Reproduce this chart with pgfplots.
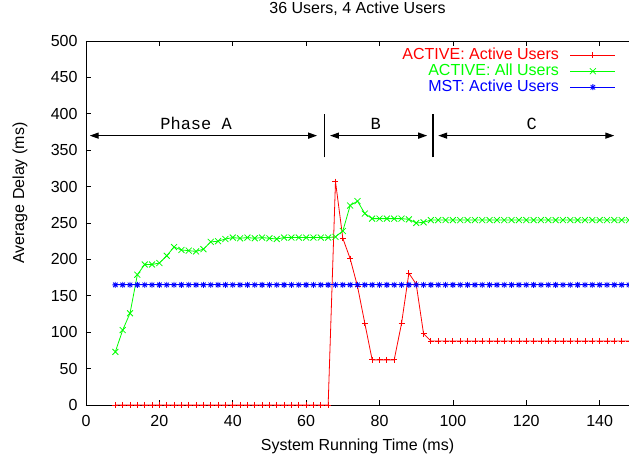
\documentclass[border=0pt]{standalone}
\usepackage{pgfplots}
\usepackage{pgfplotstable}
\pgfplotsset{compat=1.18}
\usepackage{fontspec}
\setmainfont{Liberation Sans}
\newfontfamily\cour{Liberation Mono}
\usetikzlibrary{arrows.meta}

\definecolor{gpred}{RGB}{255,0,0}
\definecolor{gpgreen}{RGB}{0,255,0}
\definecolor{gpblue}{RGB}{0,0,255}

\pgfdeclareplotmark{gpstar}{%
 \pgfpathmoveto{\pgfqpoint{-\pgfplotmarksize}{0pt}}\pgfpathlineto{\pgfqpoint{\pgfplotmarksize}{0pt}}%
 \pgfpathmoveto{\pgfqpoint{0pt}{-\pgfplotmarksize}}\pgfpathlineto{\pgfqpoint{0pt}{\pgfplotmarksize}}%
 \pgfpathmoveto{\pgfqpoint{-.75\pgfplotmarksize}{-.75\pgfplotmarksize}}\pgfpathlineto{\pgfqpoint{.75\pgfplotmarksize}{.75\pgfplotmarksize}}%
 \pgfpathmoveto{\pgfqpoint{-.75\pgfplotmarksize}{.75\pgfplotmarksize}}\pgfpathlineto{\pgfqpoint{.75\pgfplotmarksize}{-.75\pgfplotmarksize}}%
 \pgfusepathqstroke}

\pgfplotstableread{
x y
8 0
10 0
12 0
14 0
16 0
18 0
20 0
22 0
24 0
26 0
28 0
30 0
32 0
34 0
36 0
38 0
40 0
42 0
44 0
46 0
48 0
50 0
52 0
54 0
56 0
58 0
60 0
62 0
64 0
66 0
68 307
70 229
72 201
74 163
76 112
78 62
80 62
82 62
84 62
86 112
88 181
90 166
92 98
94 88
96 88
98 88
100 88
102 88
104 88
106 88
108 88
110 88
112 88
114 88
116 88
118 88
120 88
122 88
124 88
126 88
128 88
130 88
132 88
134 88
136 88
138 88
140 88
142 88
144 88
146 88
148 88
}\activeactive

\pgfplotstableread{
x y
8 73
10 103
12 126
14 179
16 193
18 193
20 195
22 205
24 217
26 213
28 212
30 211
32 214
34 224
36 225
38 228
40 230
42 229
44 230
46 229
48 230
50 229
52 228
54 230
56 230
58 230
60 230
62 230
64 230
66 230
68 231
70 239
72 274
74 280
76 263
78 256
80 256
82 256
84 256
86 256
88 255
90 250
92 251
94 254
96 254
98 254
100 254
102 254
104 254
106 254
108 254
110 254
112 254
114 254
116 254
118 254
120 254
122 254
124 254
126 254
128 254
130 254
132 254
134 254
136 254
138 254
140 254
142 254
144 254
146 254
148 254
}\activeall

\pgfplotstableread{
x y
8 165
10 165
12 165
14 165
16 165
18 165
20 165
22 165
24 165
26 165
28 165
30 165
32 165
34 165
36 165
38 165
40 165
42 165
44 165
46 165
48 165
50 165
52 165
54 165
56 165
58 165
60 165
62 165
64 165
66 165
68 165
70 165
72 165
74 165
76 165
78 165
80 165
82 165
84 165
86 165
88 165
90 165
92 165
94 165
96 165
98 165
100 165
102 165
104 165
106 165
108 165
110 165
112 165
114 165
116 165
118 165
120 165
122 165
124 165
126 165
128 165
130 165
132 165
134 165
136 165
138 165
140 165
142 165
144 165
146 165
148 165
}\mstactive

\begin{document}
\begin{tikzpicture}[font=\fontsize{16}{18}\selectfont]
\begin{axis}[
  scale only axis,
  width=543pt, height=364pt,
  xmin=0, xmax=148, ymin=0, ymax=500,
  xtick={0,20,...,140},
  ytick={0,50,...,500},
  axis x line=box,
  axis y line=left,
  y axis line style={-, line width=0.8pt},
  x axis line style={line width=0.8pt},
  tick align=inside,
  xtick pos=both,
  ytick pos=left,
  major tick length=5pt,
  tick style={black, line width=0.6pt},
  clip=false,
  /pgf/number format/assume math mode=true,
  ticklabel style={font=\fontsize{16}{18}\selectfont},
  xticklabel style={anchor=base, yshift=-22pt},
  yticklabel style={anchor=east, xshift=-5pt},
  title={36 Users, 4 Active Users},
  title style={at={(axis description cs:0.5,1)}, anchor=base, yshift=21pt, font=\fontsize{16}{18}\selectfont},
  xlabel={System Running Time (ms)},
  xlabel style={at={(axis description cs:0.5,0)}, anchor=base, yshift=-46pt, font=\fontsize{16}{18}\selectfont},
  ylabel={Average Delay (ms)},
  ylabel style={at={(axis description cs:-0.1215,0.582)}, anchor=center, rotate=0, font=\fontsize{16}{18}\selectfont},
  legend plot pos=right,
  legend cell align=right,
  legend style={draw=none, fill=none, at={(axis description cs:0.976,0.98)}, anchor=north east,
     font=\fontsize{16}{18}\selectfont, inner sep=0pt, row sep=0.5pt, column sep=11pt,
     nodes={inner sep=0pt, text height=11.5pt, text depth=4pt}},
  legend image code/.code={\draw[mark repeat=2, mark phase=2] plot coordinates {(0pt,1pt) (22.5pt,1pt) (45pt,1pt)};},
]
\coordinate (bl) at (rel axis cs:0,0);
\coordinate (tr) at (rel axis cs:1,1);
\addplot[color=gpred, line width=0.8pt, mark=+, mark size=3pt] table[x=x,y=y] {\activeactive};
\addlegendentry{\textcolor{gpred}{ACTIVE: Active Users}}
\addplot[color=gpgreen, line width=0.8pt, mark=x, mark size=4.2pt] table[x=x,y=y] {\activeall};
\addlegendentry{\textcolor{gpgreen}{ACTIVE: All Users}}
\addplot[color=gpblue, line width=0.8pt, mark=gpstar, mark size=3pt] table[x=x,y=y] {\mstactive};
\addlegendentry{\textcolor{gpblue}{MST: Active Users}}

% phase annotations
\draw[line width=1.3pt, {Triangle[length=9pt,width=6pt]}-{Triangle[length=9pt,width=6pt]}] (axis cs:1,370) -- (axis cs:63,370);
\draw[line width=1.3pt, {Triangle[length=9pt,width=6pt]}-{Triangle[length=9pt,width=6pt]}] (axis cs:66.5,370) -- (axis cs:93,370);
\draw[line width=1.3pt, {Triangle[length=9pt,width=6pt]}-{Triangle[length=9pt,width=6pt]}] (axis cs:96,370) -- (axis cs:144,370);
\draw[line width=1.8pt] (axis cs:65,340) -- (axis cs:65,400);
\draw[line width=1.8pt] (axis cs:94.5,340) -- (axis cs:94.5,400);
\node[font=\cour\fontsize{17}{18}\selectfont, anchor=base] at (axis cs:30,379) {Phase A};
\node[font=\cour\fontsize{17}{18}\selectfont, anchor=base] at (axis cs:79,379) {B};
\node[font=\cour\fontsize{17}{18}\selectfont, anchor=base] at (axis cs:121.5,379) {C};
\end{axis}
\pgfresetboundingbox
\path ([shift={(-86pt,-52pt)}]bl) rectangle ([shift={(0pt,41pt)}]tr);
\end{tikzpicture}
\end{document}
